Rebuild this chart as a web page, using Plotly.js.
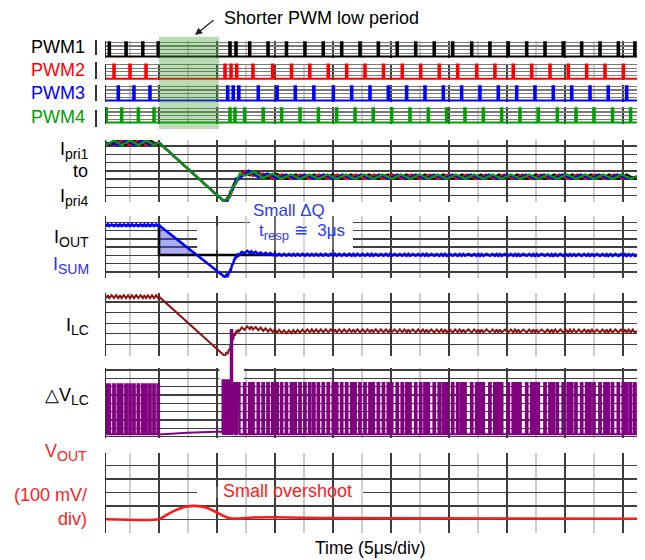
<!DOCTYPE html>
<html><head><meta charset="utf-8">
<script src="https://cdn.plot.ly/plotly-3.0.1.min.js"></script>
<style>html,body{margin:0;padding:0;background:#fff}#chart{width:645px;height:560px}</style>
</head><body><div id="chart"></div>
<script>
// ---------- DATA (time in µs, 5 µs/div; values in divisions of each trace) ----------
const pwm1Pulses = [0.72, 2.16, 3.60, 4.93, 11.12, 11.64, 12.82, 14.40, 15.99, 17.58, 19.16, 20.75, 22.33, 23.91, 25.54, 27.13, 28.73, 30.32, 31.96, 33.53, 35.11, 36.70, 38.28, 39.85, 41.44, 43.02, 44.60, 46.03];
const pwm2Pulses = [1.12, 2.50, 3.88, 10.69, 11.21, 11.70, 13.10, 14.80, 16.42, 18.00, 19.59, 21.18, 22.76, 24.35, 25.97, 27.56, 29.16, 30.75, 32.39, 33.96, 35.54, 37.13, 38.71, 40.28, 41.87, 43.45, 45.03];
const pwm3Pulses = [1.49, 2.84, 4.22, 10.92, 11.40, 11.88, 13.56, 15.18, 16.75, 18.35, 20.03, 21.61, 23.19, 24.77, 26.35, 27.93, 29.51, 31.09, 32.67, 34.25, 35.84, 37.41, 38.99, 40.58, 42.16, 43.73, 45.32];
const pwm4Pulses = [0.45, 1.78, 3.22, 4.57, 11.12, 11.55, 12.38, 13.98, 15.57, 17.16, 18.74, 20.32, 21.90, 23.47, 25.06, 26.64, 28.22, 29.80, 31.38, 32.96, 34.54, 36.12, 37.70, 39.34, 40.95, 42.50, 44.10, 45.66];

const ipriT = [0.43, 5.0, 10.55, 10.95, 11.4, 11.7, 12.1, 12.6, 13.7, 16.0, 46.21];
const ipriV = [6.4, 6.4, -0.62, -0.35, 1.0, 2.0, 2.6, 2.8, 2.45, 2.3, 2.3];

const ioutT = [0.43, 5.0, 5.0, 46.21];
const ioutV = [5.65, 5.65, 2.05, 2.05];
const isumT = [0.43, 5.0, 10.6, 10.98, 11.26, 11.55, 11.98, 12.56, 13.7, 15.5, 46.21];
const isumV = [5.65, 5.65, -0.57, -0.36, 0.64, 1.65, 2.26, 2.45, 2.26, 2.08, 2.05];

const ilcT = [0.43, 5.0, 10.6, 10.85, 11.06, 11.26, 11.5, 11.7, 12.13, 12.7, 14.3, 16.0, 17.7, 46.21];
const ilcV = [5.5, 5.5, -0.05, 0.16, 0.4, 1.25, 1.89, 2.2, 2.45, 2.6, 2.36, 2.17, 2.28, 2.26];

const vlcLow = 0.28, vlcHighBefore = 6.3, vlcHighAfter = 6.45;
const vlcGapT = [5.0, 7.5, 10.45];
const vlcGapV = [0.25, 0.45, 0.6];
const vlcBlockT = [10.45, 11.3];
const vlcBlockTop = 6.8;
const vlcSpikeT = 11.25, vlcSpikeTop = 12.95;

const voutT = [0.43, 5.0, 5.66, 6.5, 7.4, 8.1, 8.97, 9.83, 10.55, 11.1, 11.7, 13.1, 15.1, 18.9, 46.21];
const voutV = [1.0, 1.0, 1.33, 1.7, 1.95, 2.0, 1.9, 1.58, 1.25, 1.07, 1.05, 1.13, 1.15, 1.08, 1.04];

const lowPeriod = [5.0, 10.17];

// ---------- helpers ----------
const W = 645, H = 560, T0 = 0.43, T1 = 46.21;
const FONT = 'Arial, "Liberation Sans", sans-serif';
const PURPLE = '#800080', DRED = '#8c1414', GREEN = '#00a000', RED = '#ff0000', BLUE = '#0000ff';

function interp(ts, vs, t) {
  if (t <= ts[0]) return vs[0];
  for (let i = 1; i < ts.length; i++) {
    if (t <= ts[i]) {
      const d = ts[i] - ts[i-1];
      return d === 0 ? vs[i] : vs[i-1] + (vs[i] - vs[i-1]) * (t - ts[i-1]) / d;
    }
  }
  return vs[vs.length-1];
}
function unionPulses(...lists) {
  const all = [].concat(...lists).sort((a,b)=>a-b);
  const out = [];
  all.forEach(p => { if (!out.length || p - out[out.length-1] > 0.03) out.push(p); });
  return out;
}
function rippleWave(kt, kv, pulses, amp, maxGap) {
  const ps = pulses.slice().sort((a,b)=>a-b);
  const pts = [], covered = [];
  for (let i = 0; i < ps.length; i++) {
    pts.push([ps[i], interp(kt, kv, ps[i]) - amp]);
    if (i < ps.length-1 && ps[i+1] - ps[i] < maxGap) {
      const m = (ps[i] + ps[i+1]) / 2;
      pts.push([m, interp(kt, kv, m) + amp]);
      covered.push([ps[i], ps[i+1]]);
    }
  }
  kt.forEach((t, k) => { if (!covered.some(s => t > s[0] && t < s[1])) pts.push([t, kv[k]]); });
  pts.sort((a,b)=>a[0]-b[0]);
  return {x: pts.map(p=>p[0]), y: pts.map(p=>p[1])};
}
function pulseTrain(pulses, w, hi) {
  const x = [T0], y = [0];
  pulses.forEach(p => { x.push(p-w/2, p-w/2, p+w/2, p+w/2); y.push(0, hi, hi, 0); });
  x.push(T1); y.push(0);
  return {x, y};
}
const dom = (top, bot) => [1 - bot/H, 1 - top/H];

// ---------- layout axes ----------
const panels = [
  {top: 56.7-15.4, bot: 56.7+0.8, range:[-0.055,1.07], dtick:0.25, grid:'#7a7a7a', gw:1.2},
  {top: 79.0-15.4, bot: 79.0+0.8, range:[-0.055,1.07], dtick:0.25, grid:'#7a7a7a', gw:1.2},
  {top: 100.7-15.4, bot: 100.7+0.8, range:[-0.055,1.07], dtick:0.25, grid:'#7a7a7a', gw:1.2},
  {top: 122.7-15.4, bot: 122.7+0.8, range:[-0.055,1.07], dtick:0.25, grid:'#7a7a7a', gw:1.2},
  {top: 140, bot: 201.7, range:[-0.725,6.725], dtick:1, grid:'#3f3f3f', gw:1.4},
  {top: 216.3, bot: 278, range:[-0.725,6.725], dtick:1, grid:'#3f3f3f', gw:1.4},
  {top: 292.7, bot: 356, range:[-0.094,5.877], dtick:1, grid:'#3f3f3f', gw:1.4},
  {top: 368.3, bot: 438, range:[-0.181,8.22], dtick:1, grid:'#3f3f3f', gw:1.4},
  {top: 452.7, bot: 533.3, range:[-0.05,5.97], dtick:1, grid:'#3f3f3f', gw:1.4}
];
const layout = {
  width: W, height: H, margin:{l:0,r:0,t:0,b:0},
  paper_bgcolor:'#fff', plot_bgcolor:'rgba(0,0,0,0)', showlegend:false,
  font:{family:FONT}
};
const xdom = [106/W, 637/W];
panels.forEach((p, i) => {
  const n = i + 1, sfx = n === 1 ? '' : String(n);
  layout['xaxis' + sfx] = {
    domain: xdom, range:[T0, T1], anchor: 'y' + sfx, tick0:0, dtick:5,
    showgrid:true, gridcolor:'#3c3c3c', gridwidth:1.5,
    minor:{tick0:0, dtick:2.5, showgrid:true, gridcolor:'#cdcdcd', gridwidth:1.5},
    showticklabels:false, ticks:'', zeroline:false, showline:false, fixedrange:true
  };
  layout['yaxis' + sfx] = {
    domain: dom(p.top, p.bot), range: p.range, anchor: 'x' + sfx, tick0:0, dtick:p.dtick,
    showgrid:true, gridcolor:p.grid, gridwidth:p.gw, zeroline:false,
    showline:true, linecolor:'#333', linewidth:1.5,
    showticklabels:false, ticks:'', fixedrange:true
  };
});
layout.xaxis10 = {domain: xdom, range:[T0,T1], anchor:'y10', visible:false, showgrid:false, fixedrange:true};
layout.yaxis10 = {domain: dom(292.7, 438), range:[(436.5-438)/8.3, (436.5-292.7)/8.3], anchor:'x10', visible:false, showgrid:false, fixedrange:true};

// ---------- traces ----------
const traces = [];
const L = (x, y, xa, ya, color, width, extra) => Object.assign({type:'scatter', mode:'lines', x, y, xaxis:xa, yaxis:ya, line:{color, width}, hoverinfo:'skip'}, extra || {});

[[pwm1Pulses,'#000','x','y'],[pwm2Pulses,RED,'x2','y2'],[pwm3Pulses,BLUE,'x3','y3'],[pwm4Pulses,GREEN,'x4','y4']].forEach(([ps,c,xa,ya]) => {
  const w = pulseTrain(ps, 0.1, 1.03);
  traces.push(L(w.x, w.y, xa, ya, c, 2.4));
});

[[pwm1Pulses,'#000'],[pwm2Pulses,RED],[pwm3Pulses,BLUE],[pwm4Pulses,GREEN]].forEach(([ps,c]) => {
  const w = rippleWave(ipriT, ipriV, ps, 0.27, 2.5);
  traces.push(L(w.x, w.y, 'x5', 'y5', c, 2.2));
});

const allPulses = unionPulses(pwm1Pulses, pwm2Pulses, pwm3Pulses, pwm4Pulses);

(function(){
  const lvl = ioutV[ioutV.length-1];
  let tc = ioutT[1];
  for (let i = 1; i < isumT.length; i++) {
    if (isumV[i-1] >= lvl && isumV[i] < lvl) { tc = isumT[i-1] + (isumV[i-1]-lvl)/(isumV[i-1]-isumV[i])*(isumT[i]-isumT[i-1]); break; }
  }
  traces.push(L([ioutT[1], ioutT[2], tc, ioutT[1]], [ioutV[1], ioutV[2], lvl, ioutV[1]], 'x6', 'y6', 'rgba(0,0,0,0)', 0,
    {fill:'toself', fillcolor:'rgba(70,70,230,0.45)'}));
  traces.push(L(ioutT, ioutV, 'x6', 'y6', '#000', 2.6));
  const w = rippleWave(isumT, isumV, allPulses, 0.11, 2.5);
  traces.push(L(w.x, w.y, 'x6', 'y6', BLUE, 2.5));
})();

(function(){
  const w = rippleWave(ilcT, ilcV, allPulses, 0.14, 2.5);
  traces.push(L(w.x, w.y, 'x7', 'y7', DRED, 2.0));
})();

(function(){
  const pw = 0.16;
  const x = [T0], y = [vlcLow];
  allPulses.filter(p => p < vlcGapT[0]).forEach(p => { x.push(p-pw/2, p-pw/2, p+pw/2, p+pw/2); y.push(vlcLow, vlcHighBefore, vlcHighBefore, vlcLow); });
  vlcGapT.forEach((t,i) => { x.push(t); y.push(vlcGapV[i]); });
  x.push(vlcBlockT[1]); y.push(vlcLow);
  allPulses.filter(p => p > vlcBlockT[1]).forEach(p => { x.push(p-pw/2, p-pw/2, p+pw/2, p+pw/2); y.push(vlcLow, vlcHighAfter, vlcHighAfter, vlcLow); });
  x.push(T1); y.push(vlcLow);
  traces.push(L(x, y, 'x8', 'y8', PURPLE, 1.9));
  traces.push(L([vlcBlockT[0], vlcBlockT[0], vlcBlockT[1], vlcBlockT[1], vlcBlockT[0]],
                [vlcLow, vlcBlockTop, vlcBlockTop, vlcLow, vlcLow], 'x8', 'y8', PURPLE, 1.5,
                {fill:'toself', fillcolor:PURPLE}));
  traces.push(L([vlcSpikeT, vlcSpikeT], [vlcLow, vlcSpikeTop], 'x10', 'y10', PURPLE, 3.5));
})();

traces.push(L(voutT, voutV, 'x9', 'y9', '#ff1a1a', 2.6, {line:{color:'#ff1a1a', width:2.6, shape:'spline', smoothing:0.6}}));

// ---------- shapes ----------
const shapes = [];
shapes.push({type:'rect', xref:'x', yref:'paper', x0:lowPeriod[0], x1:lowPeriod[1], y0:1-129/H, y1:1-36.7/H,
  fillcolor:'rgba(55,155,41,0.35)', line:{width:0}, layer:'above'});
[[40,55],[62,79],[85,101],[110,127]].forEach(([a,b]) => shapes.push({type:'line', xref:'paper', yref:'paper', x0:96/W, x1:96/W, y0:1-b/H, y1:1-a/H, line:{color:'#000', width:1.6}}));
shapes.push({type:'rect', xref:'x6', yref:'y6', x0:8.28, x1:21.72, y0:2.66, y1:5.56, fillcolor:'#fff', line:{width:0}, layer:'between'});
shapes.push({type:'rect', xref:'x6', yref:'y6', x0:12.84, x1:21.72, y0:5.5, y1:6.8, fillcolor:'#fff', line:{width:0}, layer:'between'});
[[10,'#3c3c3c'],[12.5,'#cdcdcd'],[15,'#3c3c3c'],[17.5,'#cdcdcd'],[20,'#3c3c3c']].forEach(([t,c]) =>
  shapes.push({type:'line', xref:'x6', yref:'y6', x0:t, x1:t, y0:2.6, y1:6.8, line:{color:c, width:1.5}, layer:'between'}));
shapes.push({type:'rect', xref:'x8', yref:'y8', x0:10.2, x1:12.33, y0:6.93, y1:8.3, fillcolor:'#fff', line:{width:0}, layer:'between'});
shapes.push({type:'rect', xref:'x9', yref:'y9', x0:8.28, x1:22.6, y0:2.6, y1:3.4, fillcolor:'#fff', line:{width:0}, layer:'between'});
[[10,'#3c3c3c'],[12.5,'#cdcdcd'],[15,'#3c3c3c'],[17.5,'#cdcdcd'],[20,'#3c3c3c'],[22.5,'#cdcdcd']].forEach(([t,c]) =>
  shapes.push({type:'line', xref:'x9', yref:'y9', x0:t, x1:t, y0:2.55, y1:3.45, line:{color:c, width:1.5}, layer:'between'}));
layout.shapes = shapes;

// ---------- annotations ----------
const ann = [];
function lab(text, xp, yp, size, color, anchor) {
  ann.push({xref:'paper', yref:'paper', x:xp/W, y:1-yp/H, xanchor:anchor||'right', yanchor:'middle',
    text, showarrow:false, font:{family:FONT, size, color:color||'#000'}});
}
const sub = s => '<sub><span style="font-size:14px">' + s + '</span></sub>';
lab('PWM1', 87, 47, 18, '#000');
lab('PWM2', 87, 70, 18, RED);
lab('PWM3', 87, 93, 18, BLUE);
lab('PWM4', 87, 117, 18, GREEN);
lab('I' + sub('pri1'), 91, 151, 18);
lab('to', 90, 171, 18);
lab('I' + sub('pri4'), 91, 197, 18);
lab('I' + sub('OUT'), 91, 238, 18);
lab('I' + sub('SUM'), 91, 265, 18, '#2a2aff');
lab('I' + sub('LC'), 91, 326, 18);
lab('\u25B3V' + sub('LC'), 91, 396, 18);
lab('V' + sub('OUT'), 89, 452, 18, '#ff2020');
lab('(100 mV/', 89, 495, 18, '#ff2020');
lab('div)', 89, 519, 18, '#ff2020');
lab('Shorter PWM low period', 222, 18, 18, '#000', 'left');
lab('Small \u0394Q', 289, 210, 17, '#2a3cff', 'center');
lab('t<sub><span style="font-size:13px">resp</span></sub> \u2245\u00a0 3\u03bcs', 302, 232, 17, '#2a3cff', 'center');
lab('Small overshoot', 287, 491, 18, '#ff1a1a', 'center');
lab('Time (5\u03bcs/div)', 370, 548, 17.5, '#000', 'center');
ann.push({xref:'paper', yref:'paper', x:195/W, y:1-35/H, ax:20, ay:-16, text:'', showarrow:true,
  arrowhead:2, arrowsize:1.1, arrowwidth:1.3, arrowcolor:'#222'});
layout.annotations = ann;

Plotly.newPlot('chart', traces, layout, {staticPlot:true, displayModeBar:false});
</script>
</body></html>
